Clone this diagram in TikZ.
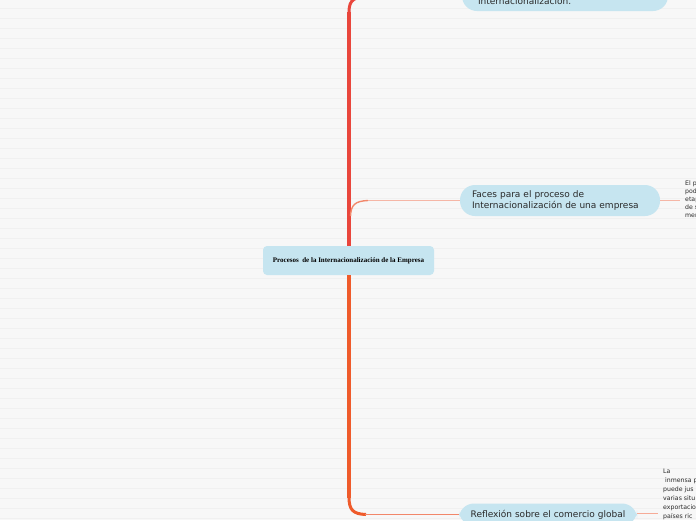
\documentclass[tikz,border=0pt]{standalone}
\usepackage{fontspec}
\setmainfont{DejaVu Sans}
\newfontfamily\serifb{Liberation Serif}
\definecolor{bgc}{HTML}{F7F7F7}
\definecolor{rulec}{HTML}{F0F0F0}
\definecolor{pill}{HTML}{C6E5F0}
\definecolor{trunkred}{HTML}{E9463C}
\definecolor{trunkor}{HTML}{EF5B2B}
\definecolor{salmon}{HTML}{F5B6A6}
\definecolor{salmondk}{HTML}{F2876A}
\definecolor{txt}{HTML}{2A2A2A}
\tikzset{
  pillnode/.style={fill=pill, draw=none, rounded corners=15pt, align=left,
    font=\fontsize{9}{11}\selectfont, text=txt, inner xsep=12pt, inner ysep=0pt},
  rootnode/.style={fill=pill, draw=none, rounded corners=4pt,
    minimum width=171pt, minimum height=29pt,
    font=\serifb\bfseries\fontsize{7}{8}\selectfont, text=black},
  notetext/.style={align=left, anchor=north west, inner sep=0pt, text=txt,
    font=\fontsize{6.2}{8}\selectfont},
  thinlink/.style={draw=salmon, line width=1pt},
}
\begin{document}
\begin{tikzpicture}[x=1pt,y=-1pt]
\useasboundingbox (0,0) rectangle (696,520);
\fill[bgc] (0,0) rectangle (696,520);
\foreach \k in {0,...,51} {
  \draw[rulec, line width=0.6pt] (0,8.5+\k*10) -- (696,8.5+\k*10);
}
% nodes
\node[rootnode] (root) at (348.5,260.5) {\raisebox{-2.5pt}{Procesos\ \ de la Internacionalización de la Empresa}};
\node[pillnode, minimum width=206pt, minimum height=31pt, text width=174pt, inner xsep=16pt] (top) at (565,-4.5) {\strut\\Internacionalización.};
\node[pillnode, minimum width=200pt, minimum height=31pt, text width=176pt] (mid) at (560,200.5) {Faces para el proceso de\\Internacionalización de una empresa};
\node[pillnode, minimum width=178pt, minimum height=22pt, align=center, inner xsep=4pt] (bot) at (548,514.5) {Reflexión sobre el comercio global};
% trunk
\coordinate (ttop) at (349,12);
\draw[trunkred, line width=4pt] (root.north -| 349,0) -- (ttop);
\draw[trunkred, line width=3pt] (ttop) .. controls (349,-1) and (355,-3) .. (368,-3.5);
\draw[salmon, line width=1.2pt] (368,-3.5) -- (top.west);
\draw[trunkor, line width=4pt] (root.south -| 349,0) -- (349,498);
\draw[trunkor, line width=3pt] (349,497) .. controls (349,510) and (353,514) .. (366,514.5);
\draw[salmondk, line width=1.3pt] (365,514.5) -- (bot.west);
% middle branch
\coordinate (mstart) at (350.5,216);
\draw[salmondk, line width=1.4pt] (mstart) .. controls (351,205) and (355,201) .. (368,200.5);
\draw[thinlink] (368,200.5) -- (mid.west);
% notes
\coordinate (mend) at (680,200.5);
\draw[thinlink] (mid.east) -- (mend);
\node[notetext] (mnote) at (685,181) {El p\\pod\\etap\\de s\\mer};
\coordinate (bend) at (658,513.5);
\draw[thinlink, draw=salmondk!70] (bot.east |- 0,513.5) -- (bend);
\node[notetext, font=\fontsize{6.2}{9}\selectfont] (bnote) at (663,469) {La\\\ inmensa p\\puede jus\\varias situ\\exportacio\\países ric};
\end{tikzpicture}
\end{document}
